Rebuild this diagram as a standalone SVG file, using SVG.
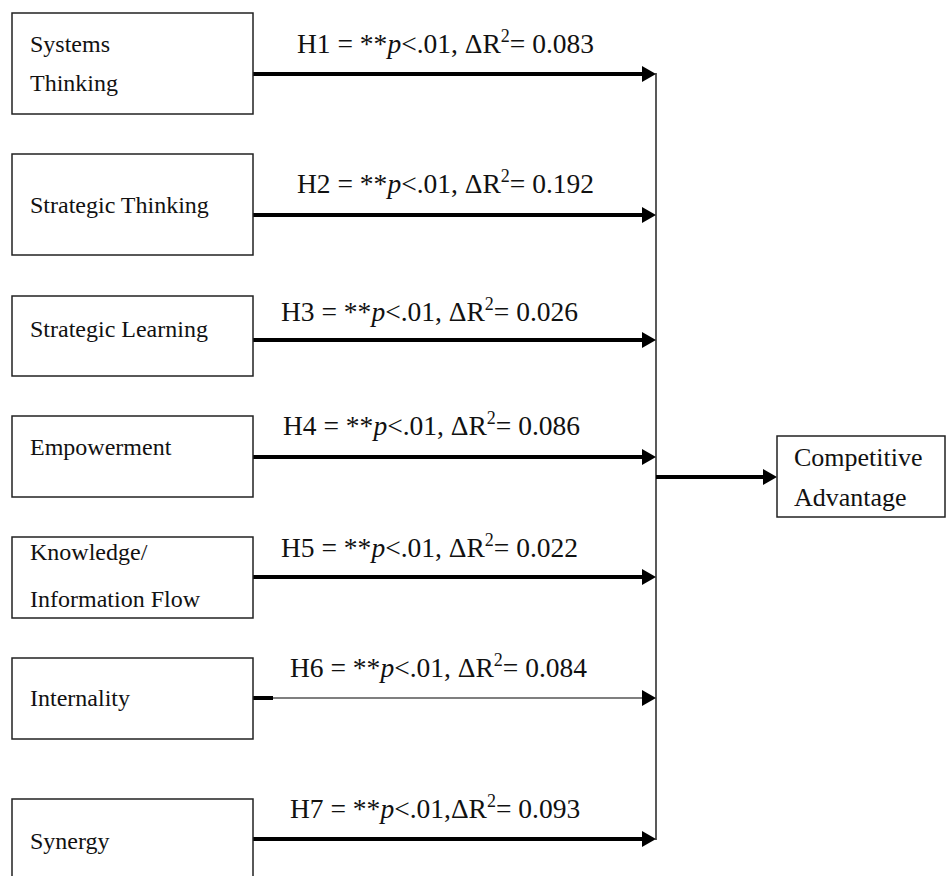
<svg xmlns="http://www.w3.org/2000/svg" width="946" height="876" viewBox="0 0 946 876">
<style>
.box{fill:#fff;stroke:#222;stroke-width:1.5}
.nt{font-family:"Liberation Serif","Times New Roman",serif;font-size:24px;fill:#111}
.ct{font-family:"Liberation Serif","Times New Roman",serif;font-size:26px;fill:#111}
.lb{font-family:"Liberation Serif","Times New Roman",serif;font-size:27.5px;fill:#111}
.sup{font-size:18px}
.thick{stroke:#000;stroke-width:4;fill:none}
.thin{stroke:#000;stroke-width:1.2;fill:none}
.bus{stroke:#222;stroke-width:1.5;fill:none}
</style>
<defs>
<marker id="ah" markerUnits="userSpaceOnUse" markerWidth="14" markerHeight="16" refX="0" refY="8" orient="auto">
<path d="M0,0 L14,8 L0,16 z" fill="#000"/>
</marker>
</defs>
<rect width="946" height="876" fill="#fff"/>

<g id="connectors">
<line class="bus" x1="656" y1="73" x2="656" y2="840"/>
<line class="thick" x1="253" y1="74" x2="642" y2="74" marker-end="url(#ah)"/>
<line class="thick" x1="253" y1="215" x2="642" y2="215" marker-end="url(#ah)"/>
<line class="thick" x1="253" y1="340" x2="642" y2="340" marker-end="url(#ah)"/>
<line class="thick" x1="253" y1="457" x2="642" y2="457" marker-end="url(#ah)"/>
<line class="thick" x1="253" y1="577" x2="642" y2="577" marker-end="url(#ah)"/>
<line class="thick" x1="253" y1="698" x2="273" y2="698"/>
<line class="thin" x1="273" y1="698" x2="642" y2="698" marker-end="url(#ah)"/>
<line class="thick" x1="253" y1="839" x2="642" y2="839" marker-end="url(#ah)"/>
<line class="thick" x1="656" y1="477" x2="763" y2="477" marker-end="url(#ah)"/>
</g>

<g id="labels">
<text class="lb" x="297" y="53">H1 = **<tspan font-style="italic">p</tspan>&lt;.01, ΔR<tspan class="sup" dy="-11">2</tspan><tspan dy="11">= 0.083</tspan></text>
<text class="lb" x="297" y="193">H2 = **<tspan font-style="italic">p</tspan>&lt;.01, ΔR<tspan class="sup" dy="-11">2</tspan><tspan dy="11">= 0.192</tspan></text>
<text class="lb" x="281" y="321">H3 = **<tspan font-style="italic">p</tspan>&lt;.01, ΔR<tspan class="sup" dy="-11">2</tspan><tspan dy="11">= 0.026</tspan></text>
<text class="lb" x="283" y="435">H4 = **<tspan font-style="italic">p</tspan>&lt;.01, ΔR<tspan class="sup" dy="-11">2</tspan><tspan dy="11">= 0.086</tspan></text>
<text class="lb" x="281" y="557">H5 = **<tspan font-style="italic">p</tspan>&lt;.01, ΔR<tspan class="sup" dy="-11">2</tspan><tspan dy="11">= 0.022</tspan></text>
<text class="lb" x="290" y="677">H6 = **<tspan font-style="italic">p</tspan>&lt;.01, ΔR<tspan class="sup" dy="-11">2</tspan><tspan dy="11">= 0.084</tspan></text>
<text class="lb" x="290" y="818">H7 = **<tspan font-style="italic">p</tspan>&lt;.01,ΔR<tspan class="sup" dy="-11">2</tspan><tspan dy="11">= 0.093</tspan></text>
</g>

<g id="systems-thinking">
<rect class="box" x="12" y="13" width="241" height="101"/>
<text class="nt" x="30" y="52">Systems</text>
<text class="nt" x="30" y="91">Thinking</text>
</g>
<g id="strategic-thinking">
<rect class="box" x="12" y="154" width="241" height="101"/>
<text class="nt" x="30" y="213">Strategic Thinking</text>
</g>
<g id="strategic-learning">
<rect class="box" x="12" y="296" width="241" height="80"/>
<text class="nt" x="30" y="337">Strategic Learning</text>
</g>
<g id="empowerment">
<rect class="box" x="12" y="416" width="241" height="81"/>
<text class="nt" x="30" y="455">Empowerment</text>
</g>
<g id="knowledge-flow">
<rect class="box" x="12" y="537" width="241" height="81"/>
<text class="nt" x="30" y="560">Knowledge/</text>
<text class="nt" x="30" y="607">Information Flow</text>
</g>
<g id="internality">
<rect class="box" x="12" y="658" width="241" height="81"/>
<text class="nt" x="30" y="706">Internality</text>
</g>
<g id="synergy">
<rect class="box" x="12" y="799" width="241" height="100"/>
<text class="nt" x="30" y="849">Synergy</text>
</g>
<g id="competitive-advantage">
<rect class="box" x="777" y="436" width="168" height="81"/>
<text class="ct" x="794" y="466">Competitive</text>
<text class="ct" x="794" y="506">Advantage</text>
</g>
</svg>
